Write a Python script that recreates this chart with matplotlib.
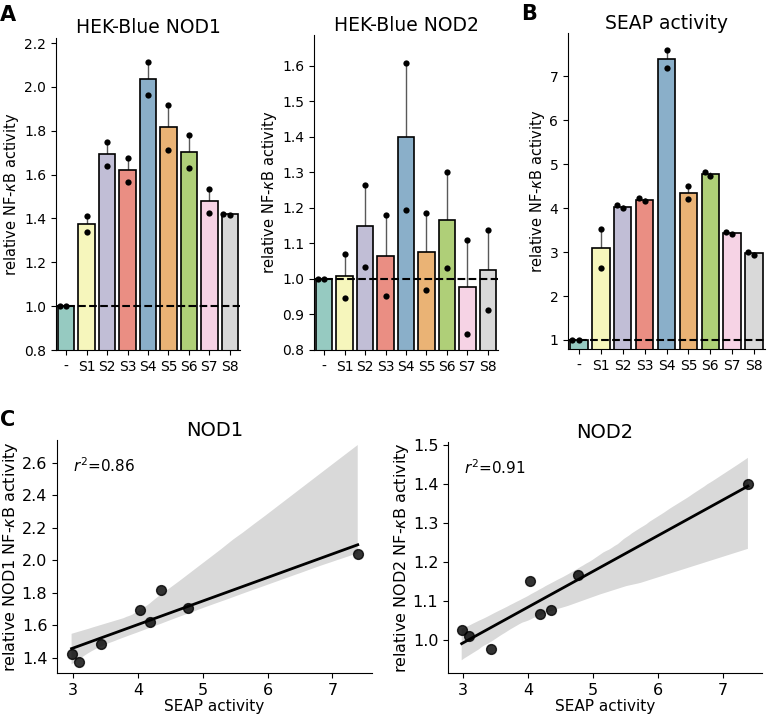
import matplotlib
matplotlib.use('Agg')
import matplotlib.pyplot as plt
import numpy as np
import pandas as pd
import seaborn as sns

# -------------------------- 数据 --------------------------
cats = ['-', 'S1', 'S2', 'S3', 'S4', 'S5', 'S6', 'S7', 'S8']

nod1_rep1 = [1.0, 1.410, 1.749, 1.677, 2.113, 1.916, 1.779, 1.536, 1.422]
nod1_rep2 = [1.0, 1.340, 1.640, 1.566, 1.961, 1.714, 1.630, 1.427, 1.418]

nod2_rep1 = [1.0, 1.071, 1.264, 1.180, 1.608, 1.185, 1.302, 1.110, 1.137]
nod2_rep2 = [1.0, 0.947, 1.035, 0.951, 1.194, 0.969, 1.032, 0.844, 0.913]

seap_rep1 = [1.0, 3.530, 4.060, 4.220, 7.600, 4.500, 4.810, 3.450, 3.010]
seap_rep2 = [1.0, 2.645, 3.990, 4.150, 7.180, 4.200, 4.720, 3.410, 2.940]

r2_text = {'NOD1': '0.86', 'NOD2': '0.91'}

plt.rcParams['font.family'] = ['DejaVu Sans']
palette = sns.color_palette('Set3', len(cats), desat=0.75)

fig = plt.figure(figsize=(7.67, 7.16), dpi=100)
W, H = 767, 716


def px_axes(left, top, right, bottom):
    return fig.add_axes([left / W, 1 - bottom / H, (right - left) / W, (bottom - top) / H])


# -------------------------- 柱状图 + 散点 --------------------------
def bar_panel(ax, rep1, rep2, title, ylim, yticks, pad):
    r = np.array([rep1, rep2])
    means = r.mean(axis=0)
    sem = r.std(axis=0, ddof=1) / np.sqrt(r.shape[0])
    xpos = np.arange(len(cats))
    ax.errorbar(xpos, means, yerr=sem, fmt='none', ecolor='0.35', elinewidth=1, zorder=1)
    ax.bar(xpos, means, width=0.8, color=palette, edgecolor='black', linewidth=1.2, zorder=2)
    df = pd.DataFrame({'cat': cats * 2, 'val': list(rep1) + list(rep2)})
    sns.swarmplot(data=df, x='cat', y='val', order=cats, color='black', size=4.5, ax=ax, zorder=3)
    ax.axhline(1, color='black', linestyle='--', linewidth=1.5, zorder=4)
    ax.set_xlim(-0.5, len(cats) - 0.5)
    ax.set_ylim(*ylim)
    ax.set_yticks(yticks)
    ax.set_xlabel('')
    ax.set_ylabel(r'relative NF-$\kappa$B activity', fontsize=10.5, labelpad=2)
    ax.tick_params(labelsize=10)
    ax.set_title(title, fontsize=13.5, pad=pad)
    sns.despine(ax=ax)


ax1 = px_axes(56, 38, 240, 350)
bar_panel(ax1, nod1_rep1, nod1_rep2, 'HEK-Blue NOD1', (0.8, 2.223),
          np.arange(0.8, 2.21, 0.2), 3.6)

ax2 = px_axes(314, 35, 498, 350)
bar_panel(ax2, nod2_rep1, nod2_rep2, 'HEK-Blue NOD2', (0.8, 1.687),
          np.arange(0.8, 1.61, 0.1), 1.5)

ax3 = px_axes(568, 33, 765, 349)
bar_panel(ax3, seap_rep1, seap_rep2, 'SEAP activity', (0.795, 7.98),
          np.arange(1, 8), 0.2)

# -------------------------- 回归散点图 --------------------------
seap_mean = np.mean([seap_rep1, seap_rep2], axis=0)[1:]


def reg_panel(ax, y_mean, name, xlim, ylim, yticks):
    sns.regplot(x=seap_mean, y=y_mean, color='black', ax=ax, seed=0,
                scatter_kws={'s': 50}, line_kws={'linewidth': 2})
    ax.set_xlim(*xlim)
    ax.set_ylim(*ylim)
    ax.set_xticks([3, 4, 5, 6, 7])
    ax.set_yticks(yticks)
    ax.tick_params(labelsize=11.5)
    ax.set_xlabel('SEAP activity', fontsize=11, labelpad=1)
    ax.set_ylabel(r'relative %s NF-$\kappa$B activity' % name, fontsize=11.5, labelpad=1)
    ax.set_title(name, fontsize=14, pad=1.5)
    ax.text(0.05, 0.93, r'$r^2$=' + r2_text[name], transform=ax.transAxes,
            fontsize=11, va='top')
    sns.despine(ax=ax)


nod1_mean = np.mean([nod1_rep1, nod1_rep2], axis=0)[1:]
nod2_mean = np.mean([nod2_rep1, nod2_rep2], axis=0)[1:]

ax4 = px_axes(57, 440, 372, 673)
reg_panel(ax4, nod1_mean, 'NOD1', (2.75, 7.61), (1.305, 2.74), np.arange(1.4, 2.61, 0.2))

ax5 = px_axes(448, 442, 762, 673)
reg_panel(ax5, nod2_mean, 'NOD2', (2.764, 7.607), (0.914, 1.508), np.arange(1.0, 1.51, 0.1))

# -------------------------- 面板字母 --------------------------
for letter, x, y in [('A', 0, 5), ('B', 521, 4), ('C', 0, 410)]:
    fig.text(x / W, 1 - y / H, letter, fontsize=15, fontweight='bold', va='top', ha='left')

fig.savefig('out.png', dpi=100)
